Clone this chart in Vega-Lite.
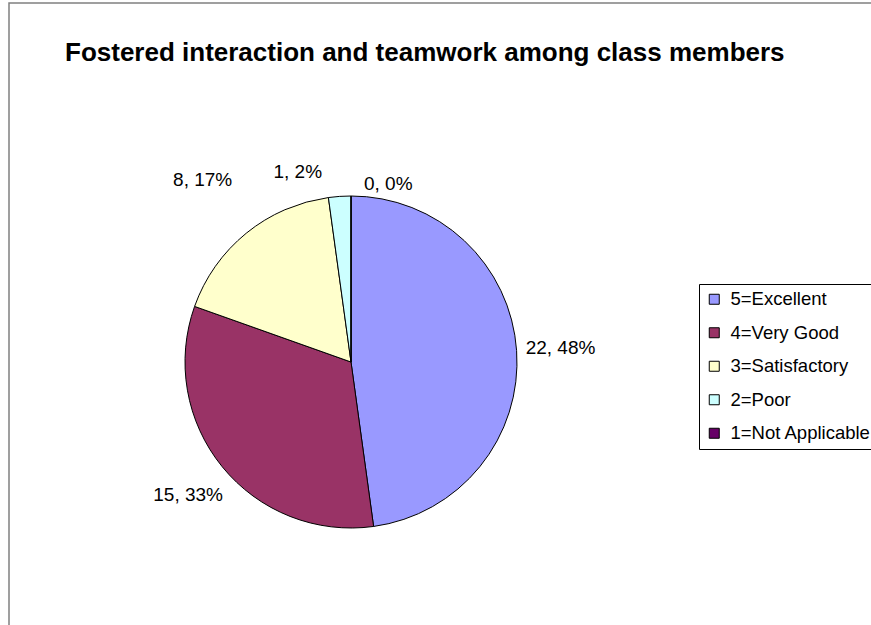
{
  "$schema": "https://vega.github.io/schema/vega-lite/v6.json",
  "autosize": "none",
  "width": 870,
  "height": 630,
  "padding": {"left": 9, "top": 3, "right": 0, "bottom": 0},
  "background": "white",
  "view": {"stroke": "#808080", "strokeWidth": 1.5},
  "config": {
    "font": "Liberation Sans"
  },
  "title": {
    "text": "Fostered interaction and teamwork among class members",
    "anchor": "start",
    "frame": "group",
    "orient": "top",
    "offset": -84,
    "baseline": "alphabetic",
    "dx": 56,
    "font": "Liberation Sans",
    "fontSize": 26,
    "fontWeight": "bold",
    "color": "black"
  },
  "data": {
    "values": [
      {"rating": "5=Excellent", "count": 22, "label": "22, 48%", "rank": 1},
      {"rating": "4=Very Good", "count": 15, "label": "15, 33%", "rank": 2},
      {"rating": "3=Satisfactory", "count": 8, "label": "8, 17%", "rank": 3},
      {"rating": "2=Poor", "count": 1, "label": "1, 2%", "rank": 4},
      {"rating": "1=Not Applicable", "count": 0, "label": "0, 0%", "rank": 5}
    ]
  },
  "transform": [
    {"stack": "count", "groupby": [], "sort": [{"field": "rank", "order": "ascending"}], "as": ["c0", "c1"]},
    {"calculate": "(datum.c0 + datum.c1) / 2", "as": "cmid"}
  ],
  "layer": [
    {
      "mark": {"type": "arc", "outerRadius": 166, "x": 342, "y": 359, "stroke": "black", "strokeWidth": 1},
      "encoding": {
        "theta": {"field": "c0", "type": "quantitative", "scale": {"domain": [0, 46]}},
        "theta2": {"field": "c1"},
        "color": {
          "field": "rating",
          "type": "nominal",
          "scale": {
            "domain": ["5=Excellent", "4=Very Good", "3=Satisfactory", "2=Poor", "1=Not Applicable"],
            "range": ["#9999FF", "#993366", "#FFFFCC", "#CCFFFF", "#660066"]
          },
          "legend": {
            "title": null,
            "orient": "none",
            "legendX": 690,
            "legendY": 281,
            "symbolType": "square",
            "symbolSize": 100,
            "symbolStrokeColor": "black",
            "symbolStrokeWidth": 1,
            "labelFont": "Liberation Sans",
            "labelFontSize": 18.5,
            "labelColor": "black",
            "labelOffset": 7,
            "rowPadding": 14.5,
            "padding": 6,
            "strokeColor": "black",
            "fillColor": "white",
            "labelLimit": 300
          }
        }
      }
    },
    {
      "transform": [{"filter": "datum.rank <= 2"}],
      "mark": {"type": "text", "radius": 210, "x": 342, "y": 359, "align": "center", "baseline": "middle", "fontSize": 19, "font": "Liberation Sans", "color": "black"},
      "encoding": {
        "theta": {"field": "cmid", "type": "quantitative", "scale": {"domain": [0, 46]}},
        "text": {"field": "label"}
      }
    },
    {
      "transform": [{"filter": "datum.rank == 3"}],
      "mark": {"type": "text", "radius": 235, "x": 342, "y": 359, "align": "center", "baseline": "middle", "fontSize": 19, "font": "Liberation Sans", "color": "black"},
      "encoding": {
        "theta": {"field": "cmid", "type": "quantitative", "scale": {"domain": [0, 46]}},
        "text": {"field": "label"}
      }
    },
    {
      "transform": [{"filter": "datum.rank == 4"}],
      "mark": {"type": "text", "radius": 190, "x": 342, "y": 359, "dx": -16, "align": "right", "baseline": "middle", "fontSize": 19, "font": "Liberation Sans", "color": "black"},
      "encoding": {
        "theta": {"field": "cmid", "type": "quantitative", "scale": {"domain": [0, 46]}},
        "text": {"field": "label"}
      }
    },
    {
      "transform": [{"filter": "datum.rank == 5"}],
      "mark": {"type": "text", "radius": 178, "x": 342, "y": 359, "dx": 13, "align": "left", "baseline": "middle", "fontSize": 19, "font": "Liberation Sans", "color": "black"},
      "encoding": {
        "theta": {"field": "cmid", "type": "quantitative", "scale": {"domain": [0, 46]}},
        "text": {"field": "label"}
      }
    }
  ]
}
